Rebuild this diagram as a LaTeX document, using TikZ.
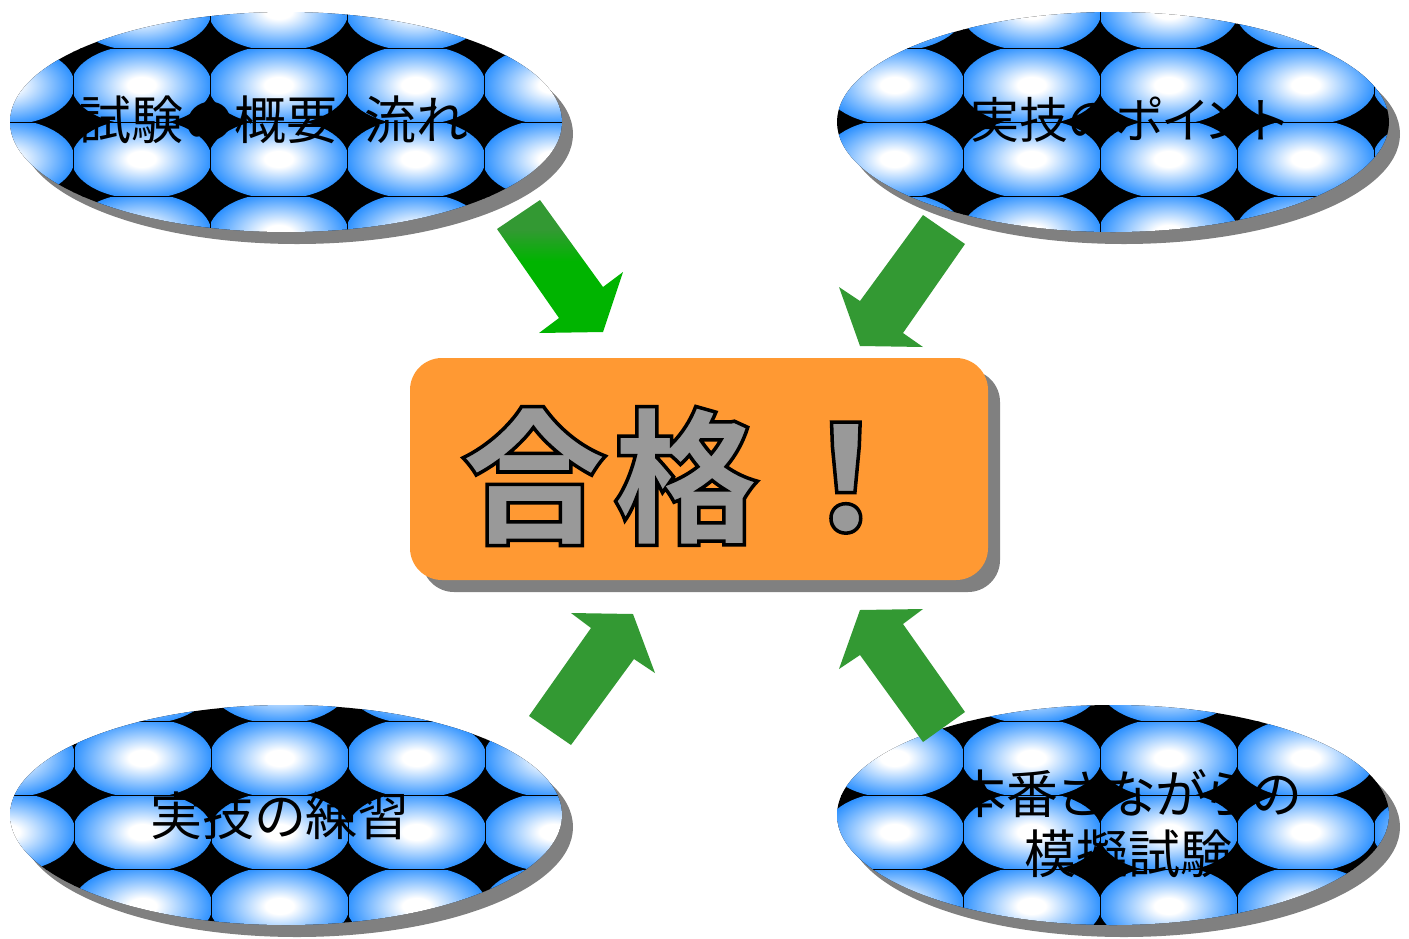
\documentclass[tikz,border=0pt]{standalone}
\usepackage{fontspec}
\setmainfont{Noto Sans CJK JP}
\newfontfamily\jp[RawFeature=+palt]{Noto Sans CJK JP}
\newfontfamily\jpbig[FakeBold=2.4]{Noto Sans CJK JP}
\usetikzlibrary{shapes.geometric}
\definecolor{tblue}{RGB}{45,145,255}
\definecolor{shadowgray}{RGB}{128,128,128}
\definecolor{boxorange}{RGB}{255,153,51}
\definecolor{arrowgreen}{RGB}{51,153,51}
\definecolor{brightgreen}{RGB}{0,180,0}
\definecolor{textgray}{RGB}{153,153,153}
\pgfdeclareradialshading{tileshade}{\pgfpointorigin}{color(0bp)=(white); color(5bp)=(white); color(25bp)=(tblue); color(50bp)=(tblue)}
\pgfdeclareverticalshading{arrowshade}{100bp}{color(0bp)=(brightgreen); color(52bp)=(brightgreen); color(64bp)=(arrowgreen); color(100bp)=(arrowgreen)}
\tikzset{
  elltext/.style={font=\jp\fontsize{52}{60}\selectfont, text=black, align=center, inner sep=0pt},
  blockarrow/.style={fill=arrowgreen, draw=none},
}
\newcommand{\patternellipse}[4]{%
  \fill[shadowgray] (#1+11,#2+12) ellipse [x radius=276pt, y radius=110pt];
  \begin{scope}
    \clip (#1,#2) ellipse [x radius=276pt, y radius=110pt];
    \fill[black] (#1-290,#2-125) rectangle (#1+290,#2+125);
    \foreach \i in {-3,...,3}{\foreach \j in {-2,...,2}{
      \begin{scope}
        \clip ({#3+\i*137-68.5},{#4+\j*74-37}) rectangle ++(137,74);
        \shade[shading=tileshade] ({#3+\i*137},{#4+\j*74}) ellipse [x radius=70pt, y radius=40pt];
      \end{scope}
      \draw[black, line width=1pt] ({#3+\i*137-68.5},{#4+\j*74-37}) -- ++(137,0);
      \draw[black, line width=0.4pt] ({#3+\i*137-68.5},{#4+\j*74-37}) -- ++(0,74);
    }}
  \end{scope}
}
\begin{document}
\begin{tikzpicture}[x=1pt,y=-1pt]
\useasboundingbox (0,0) rectangle (1409,938);
% ellipses with pattern
\patternellipse{286}{122}{278.5}{85}
\node[elltext] (t1) at (274,120) {試験の概要・流れ};
\patternellipse{1113}{122}{1168.5}{85}
\node[elltext, font=\jp\fontsize{49}{60}\selectfont] (t2) at (1129,120) {実技のポイント};
\patternellipse{286}{815}{279.5}{832}
\node[elltext] (t3) at (280,816) {実技の練習};
\patternellipse{1113}{815}{1168.5}{832}
\node[elltext] (t4) at (1128,824) {本番さながらの\\模擬試験};
% central box
\fill[shadowgray, rounded corners=32pt] (422,370) rectangle (1000,592);
\node[fill=boxorange, rounded corners=32pt, minimum width=578pt, minimum height=222pt, inner sep=0pt] (goal) at (699,469) {};
\node[inner sep=0pt] (goaltext) at (690,476) {\special{pdf:bcolor [0.6] [0]}\jpbig\bfseries\fontsize{146}{160}\selectfont 合\hspace{6pt}格\hspace{14pt}！\special{pdf:ecolor}};
% arrows
\shade[shading=arrowshade]
  (497,229) -- (540,200) -- (603,287) -- (623,272) -- (603,332) -- (539,333) -- (559,318) -- cycle;
\fill[blockarrow] (923,215) -- (965,244) -- (903,333) -- (923,347) -- (860,346) -- (839,287) -- (860,301) -- cycle;
\fill[blockarrow] (529,716) -- (571,745) -- (634,659) -- (655,673) -- (633,614) -- (571,613) -- (591,628) -- cycle;
\fill[blockarrow] (965,712) -- (923,742) -- (860,655) -- (839,669) -- (860,610) -- (923,609) -- (903,624) -- cycle;
\end{tikzpicture}
\end{document}
